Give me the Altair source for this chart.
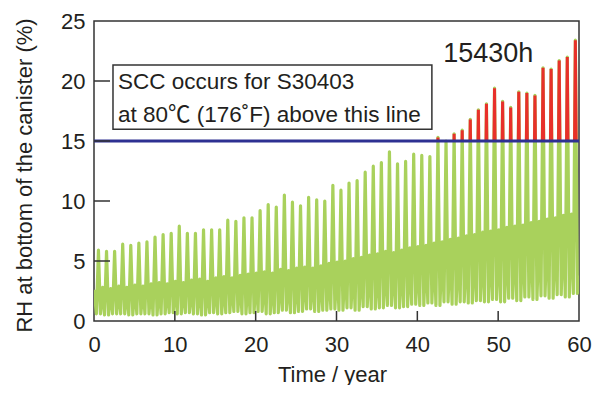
import altair as alt
import pandas as pd

# ---- data ----
years = list(range(60))
peaks = [5.9, 5.8, 5.8, 6.4, 6.3, 6.5, 6.6, 7.0, 7.2, 7.3,
         7.9, 7.3, 7.3, 7.6, 7.6, 7.6, 8.4, 8.3, 8.6, 8.6,
         9.2, 9.7, 9.5, 10.5, 9.9, 9.6, 10.3, 10.1, 10.0, 11.3,
         10.9, 11.5, 11.7, 12.4, 12.9, 13.2, 14.1, 13.1, 13.3, 13.9,
         13.8, 13.7, 15.3, 15.0, 15.6, 15.9, 16.8, 17.6, 18.1, 19.4,
         18.3, 17.8, 19.1, 19.0, 18.8, 21.1, 21.0, 21.7, 22.0, 23.4]
troughs = [0.6, 0.5, 0.6, 0.6, 0.5, 0.6, 0.6, 0.5, 0.6, 0.7,
           0.6, 0.7, 0.6, 0.5, 0.7, 0.6, 0.7, 0.8, 0.6, 0.7,
           0.8, 0.6, 0.7, 0.9, 0.7, 0.8, 1.0, 0.8, 0.9, 1.0,
           0.9, 1.1, 0.9, 1.2, 1.0, 1.1, 1.3, 1.1, 1.2, 1.4,
           1.3, 1.5, 1.3, 1.6, 1.4, 1.6, 1.5, 1.7, 1.6, 1.8,
           1.6, 1.9, 1.7, 2.0, 1.8, 2.1, 1.9, 2.2, 2.0, 2.3]
humps = [2.6, 2.8, 2.7, 2.9, 2.8, 3.0, 2.9, 3.1, 3.2, 3.1,
         3.3, 3.2, 3.4, 3.5, 3.3, 3.6, 3.7, 3.6, 3.8, 3.9,
         4.0, 4.1, 4.0, 4.3, 4.2, 4.4, 4.5, 4.4, 4.6, 4.8,
         4.9, 5.0, 5.2, 5.3, 5.5, 5.6, 5.8, 5.7, 5.9, 6.1,
         6.2, 6.3, 6.5, 6.6, 6.8, 6.9, 7.1, 7.2, 7.4, 7.5,
         7.6, 7.8, 7.9, 8.0, 8.2, 8.3, 8.5, 8.6, 8.8, 8.9]
start_value = 2.6
end_value = 3.8
threshold = 15
x_tick_values = [10, 20, 30, 40, 50]
y_tick_values = [5, 10, 15, 20]
box_lines = ["SCC occurs for S30403", "at 80\u2103 (176\u02daF) above this line"]
peak_label = "15430h"

# ---- build the series: hump, trough, peak, trough in each year ----
t = [0.0]
v = [start_value]
for y in years:
    if y > 0:
        t.append(y + 0.08)
        v.append(humps[y])
    t += [y + 0.3, y + 0.55, y + 0.8]
    v += [troughs[y], peaks[y], troughs[y]]
t.append(60.0)
v.append(end_value)
series = pd.DataFrame({"t": t, "rh": v, "i": range(len(t))})

# portions above the threshold (cut exactly where the line crosses it)
red_rows = []
seg = 0
k = 0
for i in range(len(t) - 1):
    t0, v0, t1, v1 = t[i], v[i], t[i + 1], v[i + 1]
    if v0 < threshold <= v1:
        seg += 1
        tc = t0 + (threshold - v0) / (v1 - v0) * (t1 - t0)
        red_rows.append({"seg": seg, "t": tc, "rh": threshold, "i": k}); k += 1
        red_rows.append({"seg": seg, "t": t1, "rh": v1, "i": k}); k += 1
    elif v0 >= threshold and v1 >= threshold:
        red_rows.append({"seg": seg, "t": t1, "rh": v1, "i": k}); k += 1
    elif v0 >= threshold > v1:
        tc = t0 + (v0 - threshold) / (v0 - v1) * (t1 - t0)
        red_rows.append({"seg": seg, "t": tc, "rh": threshold, "i": k}); k += 1
red = pd.DataFrame(red_rows)

FONT = "Liberation Sans, Arial, Noto Sans CJK JP, sans-serif"
TXT = "#231f20"

xs = alt.Scale(domain=[0, 60], nice=False)
ys = alt.Scale(domain=[0, 25], nice=False)

x_axis = alt.Axis(values=[0, 10, 20, 30, 40, 50, 60], ticks=False, tickSize=0, domain=False,
                  grid=False, labelFontSize=22, labelFont=FONT, labelColor=TXT,
                  labelPadding=30, labelBaseline="alphabetic", labelFlush=False,
                  title="Time / year", titleFontSize=22, titleFont=FONT, titleColor=TXT,
                  titleFontWeight="normal", titleX=238, titleY=60,
                  titleBaseline="alphabetic", titleAlign="center")
y_axis = alt.Axis(values=[0, 5, 10, 15, 20, 25], ticks=False, tickSize=0, domain=False,
                  grid=False, labelFontSize=22, labelFont=FONT, labelColor=TXT,
                  labelPadding=9, labelFlush=False,
                  title="RH at bottom of the canister (%)", titleFontSize=22,
                  titleFont=FONT, titleColor=TXT, titleFontWeight="normal",
                  titleX=-63, titleY=154, titleAngle=-90,
                  titleBaseline="alphabetic", titleAlign="center")

green = alt.Chart(series).mark_line(color="#a9d15c", strokeWidth=3.2, clip=True,
                                    strokeJoin="round").encode(
    x=alt.X("t:Q", scale=xs, axis=x_axis),
    y=alt.Y("rh:Q", scale=ys, axis=y_axis),
    order="i:Q",
)

redline = alt.Chart(red).mark_line(color="#e8302a", strokeWidth=3.0, clip=True).encode(
    x=alt.X("t:Q", scale=xs),
    y=alt.Y("rh:Q", scale=ys),
    detail="seg:N",
    order="i:Q",
)

blue = alt.Chart(pd.DataFrame({"y": [threshold]})).mark_rule(
    color="#2e3192", strokeWidth=3).encode(
    y=alt.Y("y:Q", scale=ys),
)

box = alt.Chart(pd.DataFrame({"x": [2.35], "x2": [41.8], "y": [15.97], "y2": [21.33]})).mark_rect(
    fill="white", stroke="#333333", strokeWidth=1.5).encode(
    x=alt.X("x:Q", scale=xs), x2="x2:Q",
    y=alt.Y("y:Q", scale=ys), y2="y2:Q",
)

box_text = alt.Chart(pd.DataFrame({"x": [2.97, 2.97], "y": [19.33, 16.58], "label": box_lines})).mark_text(
    align="left", baseline="alphabetic", fontSize=22.5, font=FONT, color=TXT).encode(
    x=alt.X("x:Q", scale=xs), y=alt.Y("y:Q", scale=ys), text="label:N",
)

peak_text = alt.Chart(pd.DataFrame({"x": [43.2], "y": [21.6], "label": [peak_label]})).mark_text(
    align="left", baseline="alphabetic", fontSize=27, font=FONT, color=TXT).encode(
    x=alt.X("x:Q", scale=xs), y=alt.Y("y:Q", scale=ys), text="label:N",
)

xticks = alt.Chart(pd.DataFrame({"v": x_tick_values})).mark_rule(
    color="#333333", strokeWidth=1.5).encode(
    x=alt.X("v:Q", scale=xs), y=alt.value(300), y2=alt.value(290),
)
yticks = alt.Chart(pd.DataFrame({"v": y_tick_values})).mark_rule(
    color="#333333", strokeWidth=1.5).encode(
    y=alt.Y("v:Q", scale=ys), x=alt.value(0), x2=alt.value(16),
)

chart = alt.layer(green, redline, blue, xticks, yticks, box, box_text, peak_text).properties(
    width=485, height=300,
    autosize=alt.AutoSizeParams(type="none"),
    padding={"left": 86, "top": 13, "right": 15, "bottom": 64},
    background="white",
).configure_view(stroke="#333333", strokeWidth=1.5)

chart.save("out.html", embed_options={"renderer": "svg", "actions": False})
